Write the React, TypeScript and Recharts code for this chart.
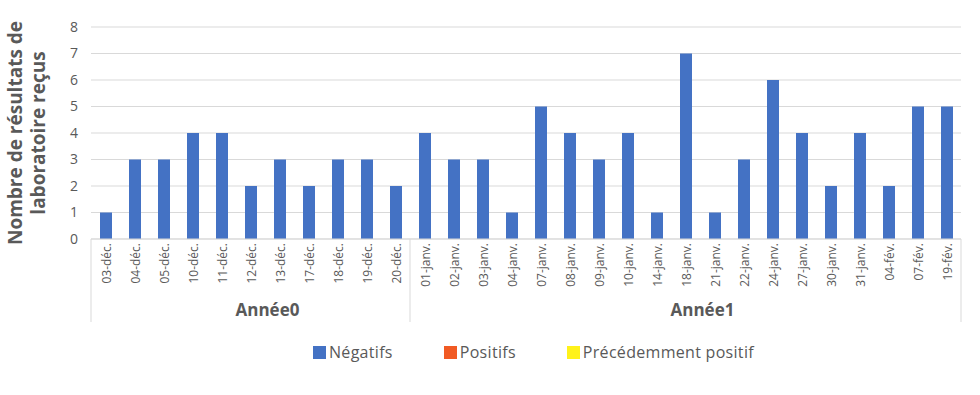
import React from 'react';
import { BarChart, Bar, XAxis, YAxis, CartesianGrid, Legend } from 'recharts';

// categories (dates) and their year group
const dates = [
  '03-déc.', '04-déc.', '05-déc.', '10-déc.', '11-déc.', '12-déc.', '13-déc.', '17-déc.', '18-déc.', '19-déc.', '20-déc.',
  '01-janv.', '02-janv.', '03-janv.', '04-janv.', '07-janv.', '08-janv.', '09-janv.', '10-janv.', '14-janv.', '18-janv.',
  '21-janv.', '22-janv.', '24-janv.', '27-janv.', '30-janv.', '31-janv.', '04-fév.', '07-fév.', '19-fév.',
];
const years = [
  'Année0', 'Année0', 'Année0', 'Année0', 'Année0', 'Année0', 'Année0', 'Année0', 'Année0', 'Année0', 'Année0',
  'Année1', 'Année1', 'Année1', 'Année1', 'Année1', 'Année1', 'Année1', 'Année1', 'Année1', 'Année1',
  'Année1', 'Année1', 'Année1', 'Année1', 'Année1', 'Année1', 'Année1', 'Année1', 'Année1',
];

// series values
const negatifs = [1, 3, 3, 4, 4, 2, 3, 2, 3, 3, 2, 4, 3, 3, 1, 5, 4, 3, 4, 1, 7, 1, 3, 6, 4, 2, 4, 2, 5, 5];
const positifs = [0, 0, 0, 0, 0, 0, 0, 0, 0, 0, 0, 0, 0, 0, 0, 0, 0, 0, 0, 0, 0, 0, 0, 0, 0, 0, 0, 0, 0, 0];
const precedemment = [0, 0, 0, 0, 0, 0, 0, 0, 0, 0, 0, 0, 0, 0, 0, 0, 0, 0, 0, 0, 0, 0, 0, 0, 0, 0, 0, 0, 0, 0];

const yTicks = [0, 1, 2, 3, 4, 5, 6, 7, 8];

const data = dates.map((d, i) => ({
  date: d,
  year: years[i],
  neg: negatifs[i],
  pos: positifs[i],
  prev: precedemment[i],
}));

const CHART_W = 980;
const CHART_H = 395;
const MARGIN = { top: 27, right: 19, left: 0, bottom: 43 };
const Y_AXIS_W = 91;
const X_AXIS_H = 83;
const BAND = (CHART_W - Y_AXIS_W - MARGIN.left - MARGIN.right) / dates.length;
const FONT = '"Open Sans", Lato, sans-serif';
const TEXT = '#595959';
const LINE = '#d9d9d9';

const DateTick = (props: any) => {
  const { x, y, payload } = props;
  const i = payload.index;
  const year = years[i];
  const first = i === 0 || years[i - 1] !== year;
  const last = i === years.length - 1;
  const count = years.filter((v) => v === year).length;
  const half = BAND / 2;
  return (
    <g>
      <text
        transform={`translate(${x + 1},${y + 4}) rotate(-90)`}
        textAnchor="end"
        dominantBaseline="central"
        fontSize={12}
        fontFamily={FONT}
        fill={TEXT}
      >
        {payload.value}
      </text>
      {first && <line x1={x - half} x2={x - half} y1={y} y2={y + X_AXIS_H} stroke={LINE} />}
      {last && <line x1={x + half} x2={x + half} y1={y} y2={y + X_AXIS_H} stroke={LINE} />}
      {first && (
        <text
          x={x - half + (count * BAND) / 2 + 17}
          y={y + 77}
          textAnchor="middle"
          fontSize={17}
          fontWeight="bold"
          fontFamily={FONT}
          fill={TEXT}
        >
          {year}
        </text>
      )}
    </g>
  );
};

const YLabel = (props: any) => {
  const { viewBox } = props;
  const cy = viewBox.y + viewBox.height / 2;
  return (
    <g>
      <text
        transform={`translate(15,${cy}) rotate(-90)`}
        textAnchor="middle"
        dominantBaseline="central"
        fontSize={19}
        fontWeight="bold"
        fontFamily={FONT}
        fill={TEXT}
      >
        Nombre de résultats de
      </text>
      <text
        transform={`translate(38,${cy}) rotate(-90)`}
        textAnchor="middle"
        dominantBaseline="central"
        fontSize={19}
        fontWeight="bold"
        fontFamily={FONT}
        fill={TEXT}
      >
        laboratoire reçus
      </text>
    </g>
  );
};

const LegendContent = (props: any) => {
  const { payload } = props;
  return (
    <div style={{ display: 'flex', paddingLeft: 313, height: 30, alignItems: 'center', fontFamily: FONT }}>
      {payload.map((entry: any) => (
        <div key={entry.value} style={{ display: 'flex', alignItems: 'center', marginRight: 51 }}>
          <span
            style={{
              display: 'inline-block',
              width: 13,
              height: 13,
              background: entry.color,
              marginRight: 3,
            }}
          />
          <span style={{ fontSize: 16, color: TEXT, letterSpacing: 0.3 }}>{entry.value}</span>
        </div>
      ))}
    </div>
  );
};

export default function App() {
  return (
    <div style={{ position: 'absolute', left: 0, top: 0, width: CHART_W, height: CHART_H, background: '#fff' }}>
      <BarChart width={CHART_W} height={CHART_H} data={data} margin={MARGIN}>
        <CartesianGrid vertical={false} stroke={LINE} />
        <XAxis
          dataKey="date"
          interval={0}
          height={X_AXIS_H}
          tickLine={false}
          tickSize={0}
          tickMargin={0}
          axisLine={{ stroke: LINE }}
          tick={<DateTick />}
        />
        <YAxis
          width={Y_AXIS_W}
          domain={[0, 8]}
          ticks={yTicks}
          interval={0}
          axisLine={false}
          tickLine={false}
          tickMargin={7}
          tick={{ fill: TEXT, fontSize: 14, fontFamily: FONT }}
          label={<YLabel />}
        />
        <Legend
          verticalAlign="bottom"
          content={<LegendContent />}
          wrapperStyle={{ left: 0, top: 337, width: CHART_W, height: 30 }}
        />
        <Bar dataKey="neg" name="Négatifs" stackId="a" fill="#4472C4" barSize={12} isAnimationActive={false} />
        <Bar dataKey="pos" name="Positifs" stackId="a" fill="#F15A24" barSize={12} isAnimationActive={false} />
        <Bar dataKey="prev" name="Précédemment positif" stackId="a" fill="#FFF21A" barSize={12} isAnimationActive={false} />
      </BarChart>
    </div>
  );
}
